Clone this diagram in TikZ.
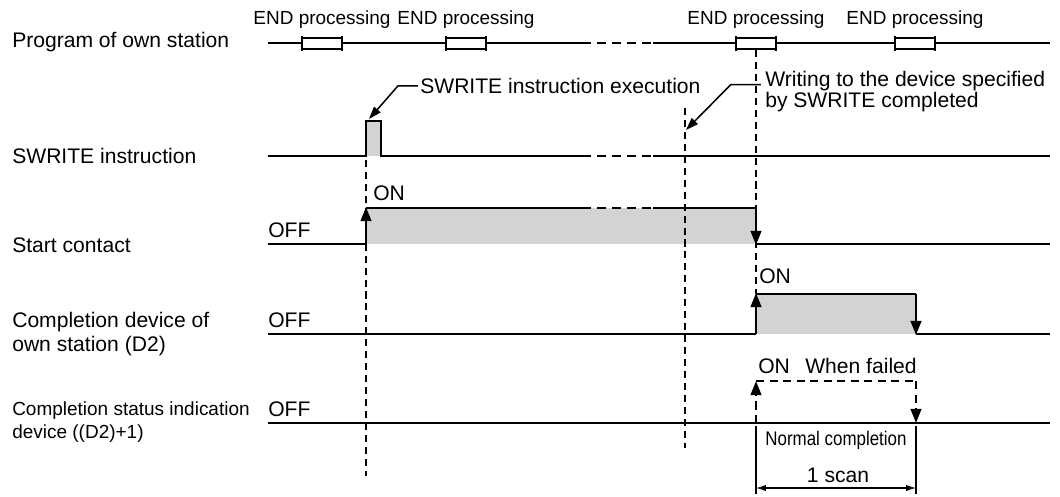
\documentclass[tikz,border=0pt]{standalone}
\usepackage{fontspec}
\setmainfont{Liberation Sans}
\usetikzlibrary{arrows.meta}
\definecolor{pulsegray}{RGB}{209,211,212}

\begin{document}
\begin{tikzpicture}[x=0.025cm, y=-0.025cm, line join=miter,
		wave/.style={line width=1.7pt},
		gapdash/.style={line width=1.7pt, dash pattern=on 6.4pt off 4.3pt},
		faildash/.style={line width=1.6pt, dash pattern=on 6pt off 3.6pt},
		guide/.style={line width=1.1pt, dash pattern=on 5pt off 3.5pt},
		rise/.style={-{Triangle[length=10pt,width=7.5pt]}},
		leader/.style={line width=1.1pt, -{Triangle[length=9pt,width=6pt]}},
		dimline/.style={line width=0.9pt, {Latex[length=7pt,width=4.5pt]}-{Latex[length=7pt,width=4.5pt]}},
		lbl/.style={font=\fontsize{15}{17.5}\selectfont, inner sep=0pt},
		small/.style={font=\fontsize{13.5}{16.3}\selectfont, inner sep=0pt},
		endbox/.style={draw, fill=white, line width=0.9pt}]
	% Time axis limits and the broken (dashed) stretch
	\def\xl{268} \def\xr{1050}
	\def\ga{591} \def\gb{653}
	\useasboundingbox (0,0) rectangle (1060,496);
	
	% Signal names on the left
	\node[lbl, anchor=west] (prog) at (12,42) {Program of own station};
	\node[lbl, anchor=west] (swr) at (12,156) {SWRITE instruction};
	\node[lbl, anchor=west] (start) at (12,245) {Start contact};
	\node[lbl, anchor=west, align=left] (done) at (12,334) {Completion device of\\own station (D2)};
	\node[small, anchor=west, align=left] (stat) at (12,422) {Completion status indication\\device ((D2)+1)};
	
	% Gray areas while the signals are ON
	\fill[pulsegray] (366,121) rectangle (381,156);
	\fill[pulsegray] (366,208) rectangle (756,244);
	\fill[pulsegray] (756,294) rectangle (916,334);
	
	% Dashed timing guides
	\draw[guide] (366,160) -- (366,476);
	\draw[guide] (685,108) -- (685,448);
	\draw[guide] (756,50) -- (756,294);
	
	% Program of own station with END processing
	\draw[wave] (\xl,43) -- (\ga,43) (\gb,43) -- (\xr,43);
	\draw[gapdash] (\ga+6,43) -- (\gb,43);
	\foreach \bx [count=\i] in {302,446,736,895} {
		\draw[endbox] (\bx,38) rectangle ++(40,11);
		\draw[wave] (\bx,36) -- (\bx,51) (\bx+40,36) -- (\bx+40,51);
		\node[small, anchor=base] (end\i) at (\bx+20,24) {END processing};
	}
	
	% SWRITE instruction pulse
	\draw[wave] (\xl,156) -- (366,156) -- (366,121) -- (381,121) -- (381,156) -- (\ga,156)
		(\gb,156) -- (\xr,156);
	\draw[gapdash] (\ga+6,156) -- (\gb,156);
	
	% Start contact
	\draw[wave] (\xl,244) -- (366,244);
	\draw[wave, rise] (366,244) -- (366,207);
	\draw[wave] (366,208) -- (\ga,208) (\gb,208) -- (756,208);
	\draw[gapdash] (\ga+6,208) -- (\gb,208);
	\draw[wave, rise] (756,208) -- (756,245);
	\draw[wave] (756,244) -- (\xr,244);
	\node[lbl, anchor=base west] (off1) at (\xl,237) {OFF};
	\node[lbl, anchor=base west] (on1) at (373,200) {ON};
	
	% Completion device of own station
	\draw[wave] (\xl,334) -- (756,334);
	\draw[wave, rise] (756,334) -- (756,293);
	\draw[wave] (756,294) -- (916,294);
	\draw[wave, rise] (916,294) -- (916,335);
	\draw[wave] (916,334) -- (\xr,334);
	\node[lbl, anchor=base west] (off2) at (\xl,327) {OFF};
	\node[lbl, anchor=base west] (on2) at (759,283) {ON};
	
	% Completion status indication device, ON only when failed
	\draw[wave] (\xl,423) -- (\xr,423);
	\draw[faildash, rise] (756,423) -- (756,381);
	\draw[faildash] (756,381) -- (916,381);
	\draw[faildash, rise] (916,381) -- (916,423);
	\node[lbl, anchor=base west] (off3) at (\xl,416) {OFF};
	\node[lbl, anchor=base west] (on3) at (758,373) {ON};
	\node[lbl, anchor=base west] (failed) at (805,373) {When failed};
	
	% Callouts
	\node[lbl, anchor=base west] (exec) at (420,93) {SWRITE instruction execution};
	\coordinate (pulsetop) at (369,119);
	\draw[leader] ([xshift=-1.5pt,yshift=5pt]exec.base west) -- ++(-20,0) -- (pulsetop);
	\node[lbl, anchor=base west] (wr1) at (765,86) {Writing to the device specified};
	\node[lbl, anchor=base west] (wr2) at (765,107) {by SWRITE completed};
	\coordinate (wrtip) at (686,130);
	\draw[leader] ([xshift=-3pt,yshift=1pt]wr1.base west) -- ++(-30,0) -- (wrtip);
	
	% One scan dimension
	\draw[line width=0.9pt] (756,426) -- (756,494) (916,426) -- (916,494);
	\node[font=\fontsize{14}{16}\selectfont, inner sep=0pt, xscale=0.86] (normal) at (836,440) {Normal completion};
	\node[lbl, anchor=base] (scan) at (838,482) {1 scan};
	\coordinate (scanL) at (756,488);
	\coordinate (scanR) at (916,488);
	\draw[dimline] (scanL) -- (scanR);
\end{tikzpicture}
\end{document}
